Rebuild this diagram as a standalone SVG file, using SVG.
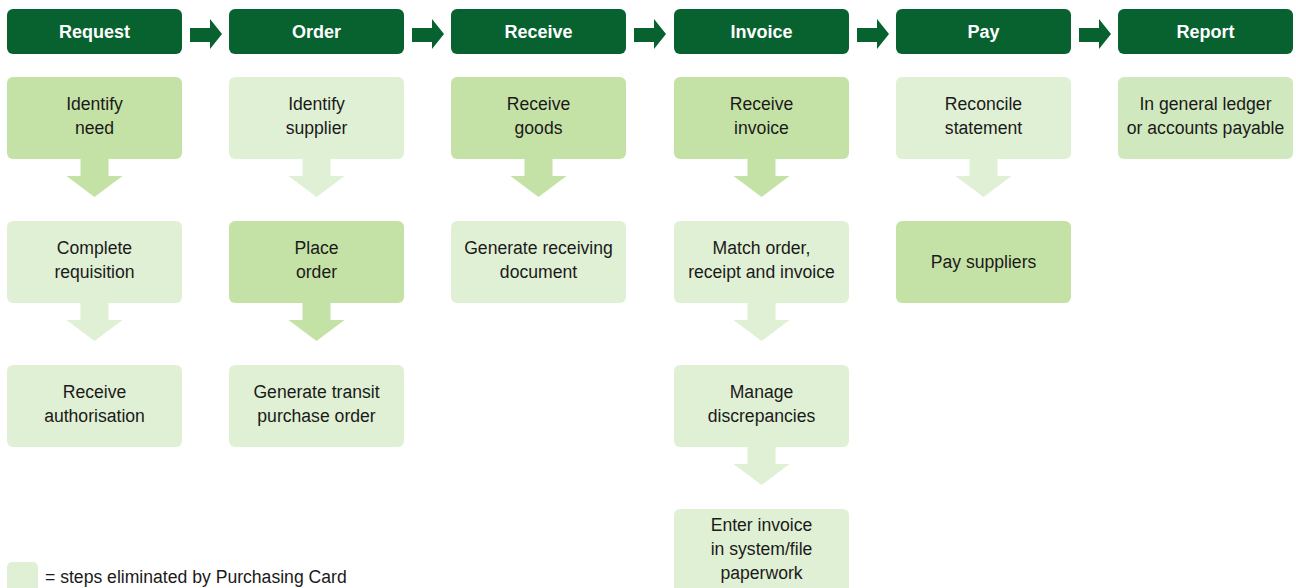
<svg xmlns="http://www.w3.org/2000/svg" width="1296" height="588" viewBox="0 0 1296 588">
  <defs>
    <style>
      .hdr { fill: #07622f; }
      .hdr-t { fill: #ffffff; font-family: "Liberation Sans", Arial, sans-serif; font-weight: bold; font-size: 18px; text-anchor: middle; }
      .dk { fill: #c5e2a6; }
      .lt { fill: #e0f0d4; }
      .md { fill: #d0e8bd; }
      .t { fill: #1a1a1a; font-family: "Liberation Sans", Arial, sans-serif; font-size: 17.6px; text-anchor: middle; }
      .flow { fill: #07622f; }
    </style>
    <!-- down arrow, tip at (0,38), top at box bottom -->
    <path id="down" d="M-14,0 H14 V17 H28 L0,38 L-28,17 H-14 Z"/>
  </defs>

  <!-- stage headers -->
  <g id="headers">
    <g id="h-request"><rect class="hdr" x="7" y="9" width="175" height="45" rx="6"/><text class="hdr-t" x="94.5" y="38">Request</text></g>
    <g id="h-order"><rect class="hdr" x="229" y="9" width="175" height="45" rx="6"/><text class="hdr-t" x="316.5" y="38">Order</text></g>
    <g id="h-receive"><rect class="hdr" x="451" y="9" width="175" height="45" rx="6"/><text class="hdr-t" x="538.5" y="38">Receive</text></g>
    <g id="h-invoice"><rect class="hdr" x="674" y="9" width="175" height="45" rx="6"/><text class="hdr-t" x="761.5" y="38">Invoice</text></g>
    <g id="h-pay"><rect class="hdr" x="896" y="9" width="175" height="45" rx="6"/><text class="hdr-t" x="983.5" y="38">Pay</text></g>
    <g id="h-report"><rect class="hdr" x="1118" y="9" width="175" height="45" rx="6"/><text class="hdr-t" x="1205.5" y="38">Report</text></g>
  </g>

  <!-- connectors -->
  <g id="connectors">
    <path class="flow" d="M190,28 H210 V19 L222,34 L210,49 V42 H190 Z"/>
    <path class="flow" d="M412,28 H432 V19 L444,34 L432,49 V42 H412 Z"/>
    <path class="flow" d="M634,28 H654 V19 L666,34 L654,49 V42 H634 Z"/>
    <path class="flow" d="M857,28 H877 V19 L889,34 L877,49 V42 H857 Z"/>
    <path class="flow" d="M1079,28 H1099 V19 L1111,34 L1099,49 V42 H1079 Z"/>

    <use href="#down" class="dk" x="94.5" y="159"/>
    <use href="#down" class="lt" x="94.5" y="303"/>
    <use href="#down" class="lt" x="316.5" y="159"/>
    <use href="#down" class="dk" x="316.5" y="303"/>
    <use href="#down" class="dk" x="538.5" y="159"/>
    <use href="#down" class="dk" x="761.5" y="159"/>
    <use href="#down" class="lt" x="761.5" y="303"/>
    <use href="#down" class="lt" x="761.5" y="447"/>
    <use href="#down" class="lt" x="983.5" y="159"/>
  </g>

  <!-- Request column -->
  <g id="identify-need"><rect class="dk" x="7" y="77" width="175" height="82" rx="6"/><text class="t" x="94.5" y="110">Identify</text><text class="t" x="94.5" y="134">need</text></g>
  <g id="complete-requisition"><rect class="lt" x="7" y="221" width="175" height="82" rx="6"/><text class="t" x="94.5" y="254">Complete</text><text class="t" x="94.5" y="278">requisition</text></g>
  <g id="receive-authorisation"><rect class="lt" x="7" y="365" width="175" height="82" rx="6"/><text class="t" x="94.5" y="398">Receive</text><text class="t" x="94.5" y="422">authorisation</text></g>

  <!-- Order column -->
  <g id="identify-supplier"><rect class="lt" x="229" y="77" width="175" height="82" rx="6"/><text class="t" x="316.5" y="110">Identify</text><text class="t" x="316.5" y="134">supplier</text></g>
  <g id="place-order"><rect class="dk" x="229" y="221" width="175" height="82" rx="6"/><text class="t" x="316.5" y="254">Place</text><text class="t" x="316.5" y="278">order</text></g>
  <g id="generate-po"><rect class="lt" x="229" y="365" width="175" height="82" rx="6"/><text class="t" x="316.5" y="398">Generate transit</text><text class="t" x="316.5" y="422">purchase order</text></g>

  <!-- Receive column -->
  <g id="receive-goods"><rect class="dk" x="451" y="77" width="175" height="82" rx="6"/><text class="t" x="538.5" y="110">Receive</text><text class="t" x="538.5" y="134">goods</text></g>
  <g id="generate-receiving"><rect class="lt" x="451" y="221" width="175" height="82" rx="6"/><text class="t" x="538.5" y="254">Generate receiving</text><text class="t" x="538.5" y="278">document</text></g>

  <!-- Invoice column -->
  <g id="receive-invoice"><rect class="dk" x="674" y="77" width="175" height="82" rx="6"/><text class="t" x="761.5" y="110">Receive</text><text class="t" x="761.5" y="134">invoice</text></g>
  <g id="match-order"><rect class="lt" x="674" y="221" width="175" height="82" rx="6"/><text class="t" x="761.5" y="254">Match order,</text><text class="t" x="761.5" y="278">receipt and invoice</text></g>
  <g id="manage-discrepancies"><rect class="lt" x="674" y="365" width="175" height="82" rx="6"/><text class="t" x="761.5" y="398">Manage</text><text class="t" x="761.5" y="422">discrepancies</text></g>
  <g id="enter-invoice"><rect class="lt" x="674" y="509" width="175" height="90" rx="6"/><text class="t" x="761.5" y="531">Enter invoice</text><text class="t" x="761.5" y="555">in system/file</text><text class="t" x="761.5" y="579">paperwork</text></g>

  <!-- Pay column -->
  <g id="reconcile-statement"><rect class="lt" x="896" y="77" width="175" height="82" rx="6"/><text class="t" x="983.5" y="110">Reconcile</text><text class="t" x="983.5" y="134">statement</text></g>
  <g id="pay-suppliers"><rect class="dk" x="896" y="221" width="175" height="82" rx="6"/><text class="t" x="983.5" y="268">Pay suppliers</text></g>

  <!-- Report column -->
  <g id="general-ledger"><rect class="md" x="1118" y="77" width="175" height="82" rx="6"/><text class="t" x="1205.5" y="110">In general ledger</text><text class="t" x="1205.5" y="134">or accounts payable</text></g>

  <!-- legend -->
  <g id="legend">
    <rect class="lt" x="7" y="562" width="31" height="32" rx="5"/>
    <text class="t" x="45" y="583" style="text-anchor:start">= steps eliminated by Purchasing Card</text>
  </g>
</svg>
